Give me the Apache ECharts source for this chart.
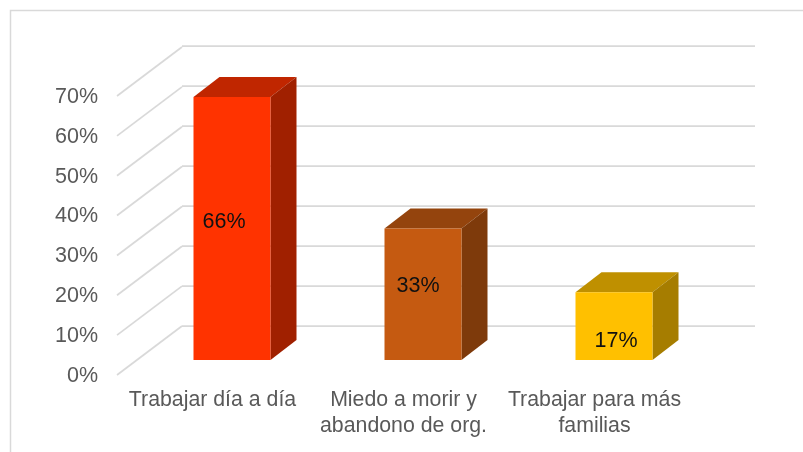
<!DOCTYPE html>
<html>
<head>
<meta charset="utf-8">
<style>html,body{margin:0;padding:0;background:#fff}#c{width:803px;height:452px}</style>
<script src="https://cdn.jsdelivr.net/npm/echarts@6/dist/echarts.min.js"></script>
</head>
<body>
<div id="c"></div>
<script>
const categories = ['Trabajar día a día', 'Miedo a morir y\nabandono de org.', 'Trabajar para más\nfamilias'];
const values = [66, 33, 17];
const labels = ['66%', '33%', '17%'];
const yTicks = [0, 10, 20, 30, 40, 50, 60, 70];

const frontColors = ['#FF3300', '#C55A11', '#FFC000'];
const topColors = ['#C02600', '#94440D', '#BF9000'];
const sideColors = ['#A02000', '#7E3A0B', '#A67D00'];

// projection of the pseudo-3D box
const wallDx = 65, wallDy = -49;
const barShiftX = 19.5, barShiftY = -14;
const depthDx = 26, depthDy = -20;
const barWidth = 77;
const labelShift = [[-8, -6], [-5, -8.5], [2, 15]];
const gridColor = '#D9D9D9';
const textColor = '#595959';
const fontFamily = '"Liberation Sans", Arial, sans-serif';

const chart = echarts.init(document.getElementById('c'), null, {renderer: 'canvas'});

function renderDiagonal(params, api) {
  const y = api.coord([0, api.value(1)])[1];
  const x = params.coordSys.x;
  return {
    type: 'line',
    shape: {x1: x, y1: y + 1, x2: x + wallDx, y2: y + 1 + wallDy},
    style: {stroke: gridColor, lineWidth: 1.75}
  };
}

function renderBar(params, api) {
  const i = api.value(0);
  const top = api.coord([i, api.value(1)]);
  const base = api.coord([i, 0]);
  const xl = top[0] + barShiftX - barWidth / 2;
  const xr = xl + barWidth;
  const yt = top[1] + barShiftY;
  const yb = base[1] + barShiftY;
  return {
    type: 'group',
    children: [
      {type: 'polygon', shape: {points: [[xl, yt], [xr, yt], [xr + depthDx, yt + depthDy], [xl + depthDx, yt + depthDy]]},
        style: {fill: topColors[i]}},
      {type: 'polygon', shape: {points: [[xr, yt], [xr + depthDx, yt + depthDy], [xr + depthDx, yb + depthDy], [xr, yb]]},
        style: {fill: sideColors[i]}},
      {type: 'rect', shape: {x: xl, y: yt, width: barWidth, height: yb - yt},
        style: {fill: frontColors[i]}},
      {type: 'text', z2: 10,
        style: {
          text: labels[i],
          x: (xl + xr) / 2 + labelShift[i][0],
          y: (yt + yb) / 2 + labelShift[i][1],
          align: 'center', verticalAlign: 'middle',
          font: '21.5px ' + fontFamily, fill: '#111111'
        }}
    ]
  };
}

chart.setOption({
  animation: false,
  backgroundColor: '#ffffff',
  graphic: [{
    type: 'polyline', silent: true,
    shape: {points: [[10.5, 452], [10.5, 10.5], [803, 10.5]]},
    style: {stroke: gridColor, lineWidth: 1.5, fill: null}
  }],
  grid: [
    {left: 117, top: 95, width: 573, height: 279},
    {left: 182, top: 46, width: 573, height: 280},
    {left: 117, top: 97, width: 573, height: 279}
  ],
  xAxis: [
    {type: 'category', gridIndex: 0, data: categories,
      axisLine: {show: false}, axisTick: {show: false}, splitLine: {show: false},
      axisLabel: {interval: 0, color: textColor, fontFamily, fontSize: 21.3, lineHeight: 26, margin: 13}},
    {type: 'category', gridIndex: 1, data: categories, show: false},
    {type: 'category', gridIndex: 2, data: categories, show: false}
  ],
  yAxis: [
    {type: 'value', gridIndex: 0, min: 0, max: 70, interval: 10, show: false},
    {type: 'value', gridIndex: 1, min: 0, max: 70, interval: 10,
      axisLine: {show: false}, axisTick: {show: false}, axisLabel: {show: false},
      splitLine: {show: true, lineStyle: {color: gridColor, width: 1.75}}},
    {type: 'value', gridIndex: 2, min: 0, max: 70, interval: 10,
      axisLine: {show: false}, axisTick: {show: false}, splitLine: {show: false},
      axisLabel: {color: textColor, fontFamily, fontSize: 21.5, margin: 19, formatter: '{value}%'}}
  ],
  series: [
    {type: 'custom', xAxisIndex: 0, yAxisIndex: 0, silent: true, clip: false, z: 1,
      renderItem: renderDiagonal,
      data: yTicks.map(v => [0, v])},
    {type: 'custom', xAxisIndex: 0, yAxisIndex: 0, silent: true, clip: false, z: 3,
      renderItem: renderBar,
      data: values.map((v, i) => [i, v])}
  ]
});
</script>
</body>
</html>
